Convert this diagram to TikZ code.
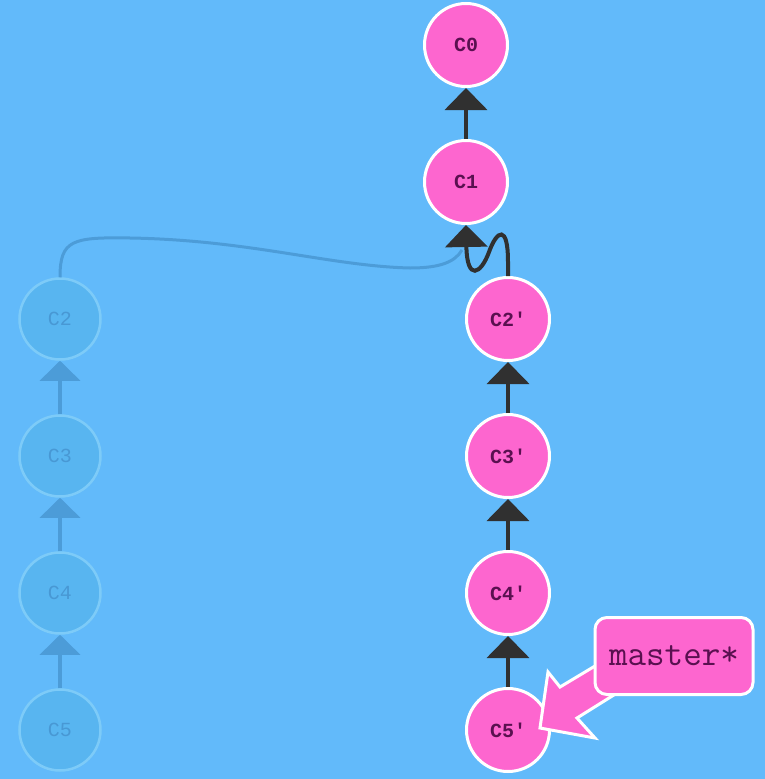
\documentclass[tikz,border=0pt]{standalone}
\usepackage{fontspec}
\newfontfamily\monof{Liberation Mono}
\usetikzlibrary{arrows.meta}
\definecolor{bg}{RGB}{98,186,250}
\definecolor{pinkc}{RGB}{253,102,207}
\definecolor{ptext}{RGB}{90,16,80}
\definecolor{darkl}{RGB}{48,48,48}
\definecolor{gfill}{RGB}{88,181,240}
\definecolor{gborder}{RGB}{125,203,248}
\definecolor{gtext}{RGB}{72,152,212}
\definecolor{gline}{RGB}{76,156,216}
\tikzset{
  commit/.style={circle,fill=pinkc,draw=white,line width=3pt,minimum size=83pt,inner sep=0pt,
    font=\monof\bfseries\fontsize{20}{20}\selectfont,text=ptext},
  ghost/.style={circle,fill=gfill,draw=gborder,line width=2.5pt,minimum size=81pt,inner sep=0pt,
    font=\monof\fontsize{20}{20}\selectfont,text=gtext},
  parent/.style={draw=darkl,line width=4pt,-{Triangle[width=42pt,length=22pt]}},
  gparent/.style={draw=gline,line width=3.5pt,-{Triangle[width=40pt,length=20pt]}},
}
\begin{document}
\begin{tikzpicture}[x=1pt,y=-1pt]
\fill[bg] (0,0) rectangle (765,779);
\useasboundingbox (0,0) rectangle (765,779);
% ghost nodes
\node[ghost] (C2) at (60,319) {C2};
\node[ghost] (C3) at (60,456) {C3};
\node[ghost] (C4) at (60,593) {C4};
\node[ghost] (C5) at (60,730) {C5};
\draw[gparent] (C3) -- (C2);
\draw[gparent] (C4) -- (C3);
\draw[gparent] (C5) -- (C4);
% pink nodes
\node[commit] (C0) at (466,45) {C0};
\node[commit] (C1) at (466,182) {C1};
\node[commit] (C2p) at (508,319) {C2'};
\node[commit] (C3p) at (508,456) {C3'};
\node[commit] (C4p) at (508,593) {C4'};
\node[commit] (C5p) at (508,730) {C5'};
% ghost curve to C1
\draw[gline,line width=3pt] (C2.north) .. controls (60,240) and (72,237) .. (130,238)
  .. controls (250,240) and (330,266) .. (410,268) .. controls (440,268) and (455,262) .. (462,250);
\draw[parent] (C1) -- (C0);
\draw[parent] (C2p.north) -- (508,262) .. controls (508,224) and (497,230) .. (489,252)
  .. controls (481,274) and (467,282) .. (C1.south);
\draw[parent] (C3p) -- (C2p);
\draw[parent] (C4p) -- (C3p);
\draw[parent] (C5p) -- (C4p);
% master label
\coordinate (tip) at (540,728);
\filldraw[fill=pinkc,draw=white,line width=3pt,line join=miter]
  (tip) -- (548,672) -- (560,687) -- (605,660) -- (617,693) -- (577,718) -- (595,738) -- cycle;
\node[draw=white,fill=pinkc,line width=3pt,rounded corners=12pt,minimum width=158pt,minimum height=77pt,
  font=\ttfamily\fontsize{36}{36}\selectfont,text=ptext] (master) at (674,656) {master*};
\end{tikzpicture}
\end{document}
